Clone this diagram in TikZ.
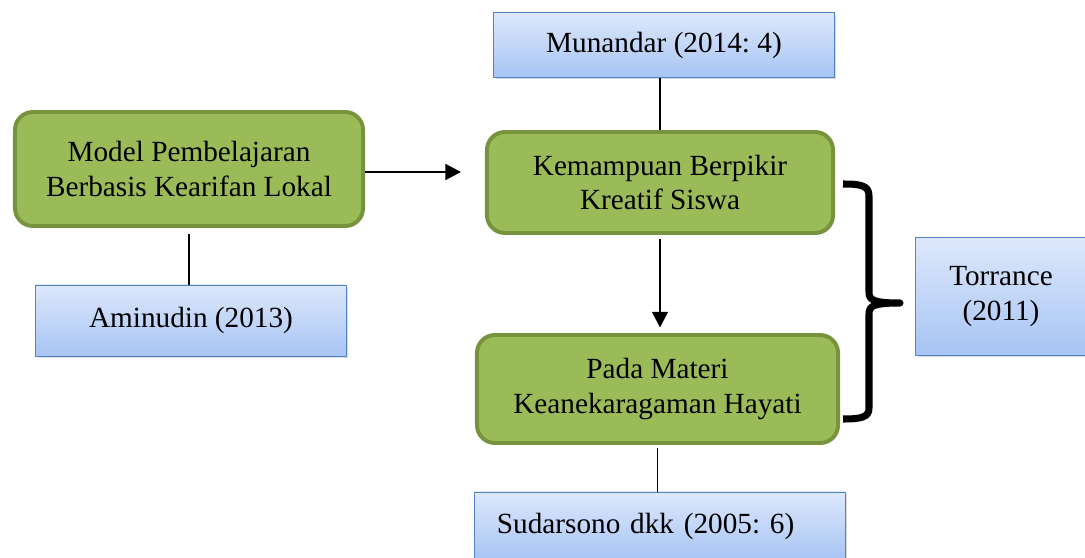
\documentclass[tikz,border=0pt]{standalone}
\usepackage{fontspec}
\setmainfont{Liberation Serif}
\usepackage{tikz}
\usetikzlibrary{arrows.meta,shadows}
\frenchspacing

\definecolor{hijau}{HTML}{9BBB59}
\definecolor{hijaugaris}{HTML}{77933C}
\definecolor{biruatas}{HTML}{DDE8FB}
\definecolor{birubawah}{HTML}{A7C4F4}
\definecolor{birugaris}{HTML}{5284C4}

\begin{document}
\begin{tikzpicture}[x=0.025cm, y=-0.025cm,
    font=\fontsize{20.8pt}{24.8pt}\selectfont,
    konsep/.style={draw=hijaugaris, fill=hijau, line width=2.8pt,
        rounded corners=0.45cm, align=center,
        drop shadow={shadow xshift=1.2pt, shadow yshift=-1.2pt, opacity=0.25}},
    sumber/.style={draw=birugaris, line width=0.7pt, top color=biruatas,
        bottom color=birubawah, align=center,
        drop shadow={shadow xshift=1.5pt, shadow yshift=-1.5pt, opacity=0.3}},
    garis/.style={line width=1.1pt},
    panah/.style={line width=1.2pt, -{Triangle[length=0.39cm, width=0.4cm]}}]
    \useasboundingbox (0,0) rectangle (1085,558);

    \node[konsep, minimum width=8.7cm, minimum height=2.85cm] (model) at (189,169)
        {Model Pembelajaran\\Berbasis Kearifan Lokal};
    \node[sumber, minimum width=7.75cm, minimum height=1.775cm] (aminudin) at (191,320.5)
        {Aminudin (2013)};
    \node[sumber, minimum width=8.5cm, minimum height=1.6cm] (munandar) at (664,45)
        {Munandar (2014: 4)};
    \node[konsep, minimum width=8.65cm, minimum height=2.525cm] (kemampuan) at (660,182.5)
        {Kemampuan Berpikir\\Kreatif Siswa};
    \node[konsep, minimum width=9.025cm, minimum height=2.7cm] (pada) at (657.5,389)
        {Pada Materi\\Keanekaragaman Hayati};
    \node[sumber, minimum width=9.25cm, minimum height=1.7cm, text width=8.15cm,
        inner xsep=0.55cm, align=left] (sudarsono) at (660,526)
        {Sudarsono dkk (2005: 6)};
    \node[sumber, minimum width=4.25cm, minimum height=2.925cm] (torrance) at (1001,296.5)
        {Torrance\\(2011)};

    \draw[panah, shorten >=0.6cm] (model.east |- 0,172) -- (kemampuan.west |- 0,172);
    \draw[garis, shorten <=4pt] (model.south) -- (model.south |- aminudin.north);
    \draw[garis] (kemampuan.north |- munandar.south) -- (kemampuan.north);
    \draw[panah, shorten <=3pt, shorten >=4pt] (kemampuan.south) -- (kemampuan.south |- pada.north);
    \draw[garis, shorten <=2pt] (pada.south) -- (pada.south |- sudarsono.north);

    % kurung kurawal
    \draw[line width=5pt, line join=round]
        (843,184) .. controls (862,184) and (869,186) .. (869,196)
        -- (869,292) .. controls (869,300) and (873,303) .. (900,303)
        .. controls (873,303) and (869,306) .. (869,314)
        -- (869,408) .. controls (869,417) and (862,419) .. (843,419);
\end{tikzpicture}
\end{document}
